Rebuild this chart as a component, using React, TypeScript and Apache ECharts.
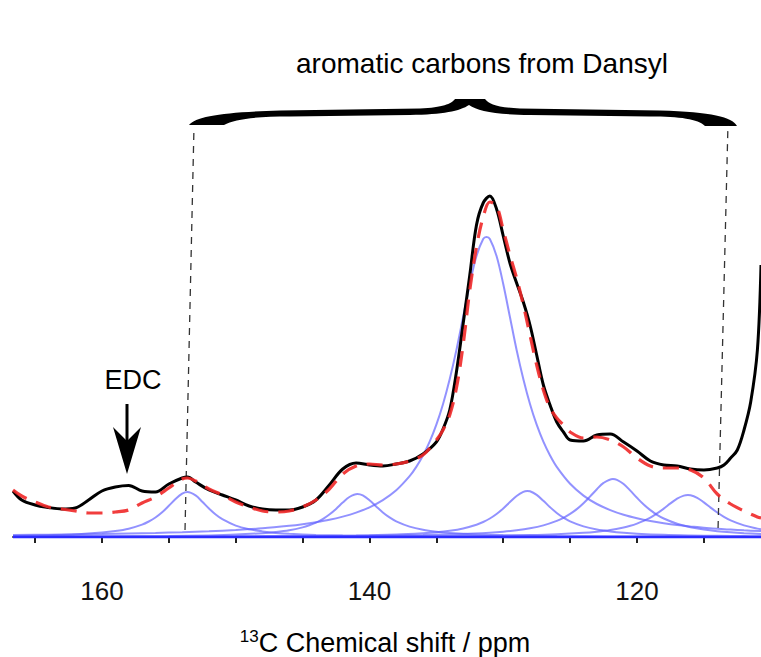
import React, { useEffect, useRef } from "react";
import * as echarts from "echarts";

// x: chemical shift (ppm), y: intensity (arbitrary units above baseline)
const spectrum: [number, number][] = [
  [166.65, 46], [166, 37], [165, 32], [164, 29.5], [163, 28], [162, 29], [161, 37], [160, 46],
  [159, 50], [158, 51.5], [157, 46], [156, 45], [155, 53], [154, 59], [153.6, 60], [153, 55],
  [152, 47], [151, 42], [150, 37], [149, 31], [148, 28], [147, 27], [146, 27], [145, 30],
  [144, 37], [143, 52], [142, 68], [141, 74], [140, 72], [139, 71], [138, 73], [137, 76],
  [136, 83], [135, 95], [134.5, 108], [134, 127], [133.5, 165], [133, 213], [132.5, 262],
  [132, 312], [131.5, 334], [131, 341], [130.5, 328], [130, 301], [129.5, 274], [129, 254],
  [128.5, 235], [128, 212], [127.5, 182], [127, 152], [126.5, 132], [126, 115], [125.5, 105],
  [125, 97], [124, 96], [123, 102], [122, 103], [121, 95], [120, 86], [119, 76], [118, 72],
  [117, 71], [116, 68], [115, 67], [114, 69], [113.5, 72], [113, 79], [112.5, 87], [112, 107],
  [111.5, 135], [111, 187], [110.73, 272],
];

const fitSum: [number, number][] = [
  [166.65, 47], [166, 41], [165, 35], [164, 30], [163, 28], [162, 26], [161, 24], [160, 24],
  [159, 25], [158, 27], [157, 34], [156, 40], [155, 49], [154, 58], [153.6, 59], [153, 56],
  [152, 48], [151, 42], [150, 35], [149, 30], [148, 26], [147, 25], [146, 26], [145, 30],
  [144, 37], [143, 48], [142, 63], [141, 71], [140, 73], [139, 72], [138, 73], [137, 76],
  [136, 82], [135, 97], [134.5, 107], [134, 122], [133.5, 149], [133, 192], [132.5, 247],
  [132, 290], [131.5, 320], [131, 335], [130.5, 331], [130, 307], [129.5, 282], [129, 259],
  [128.5, 232], [128, 202], [127.5, 172], [127, 147], [126.5, 129], [126, 119], [125.5, 112],
  [125, 105], [124, 99], [123, 100], [122, 97], [121, 90], [120, 79], [119, 71], [118, 69],
  [117, 69], [116, 67], [115, 59], [114, 43], [113, 33], [112, 26], [111, 20], [110.73, 19],
];

const comp153: [number, number][] = [
  [166.65, 1.1], [164, 1.8], [162, 2.6], [160, 4.4], [159, 5.9], [158, 8.3], [157, 12.4],
  [156.5, 15.5], [156, 19.5], [155.5, 24.7], [155, 31.2], [154.5, 38], [154, 43.4], [153.6, 45],
  [153, 41.6], [152.5, 35.3], [152, 28.5], [151.5, 22.5], [151, 17.8], [150, 11.4], [149, 7.8],
  [148, 5.6], [147, 4.1], [146, 3.2], [144, 2.1], [142, 1.4], [140, 1.05], [135, 0.57],
  [130, 0.35], [125, 0.24], [120, 0.17], [115, 0.13], [110.73, 0.11],
];

const comp141: [number, number][] = [
  [166.65, 0.31], [160, 0.56], [155, 1.02], [152, 1.62], [150, 2.38], [148, 3.8], [147, 4.95],
  [146, 6.7], [145, 9.6], [144.5, 11.7], [144, 14.4], [143.5, 17.9], [143, 22.5], [142.5, 28.1],
  [142, 34.4], [141.5, 40], [140.9, 43], [140.5, 41.6], [140, 36.8], [139.5, 30.6], [139, 24.6],
  [138.5, 19.6], [138, 15.7], [137, 10.4], [136, 7.2], [135, 5.25], [134, 3.97], [132, 2.47],
  [130, 1.69], [126, 0.92], [122, 0.57], [118, 0.39], [114, 0.29], [110.73, 0.23],
];

const comp131: [number, number][] = [
  [166.65, 2.0], [164, 2.33], [162, 2.65], [160, 3.02], [158, 3.48], [156, 4.06], [154, 4.8],
  [152, 5.75], [150, 7.0], [148, 8.7], [146, 11.2], [145, 12.8], [144, 14.8], [143, 17.2],
  [142, 20.4], [141, 24.4], [140, 29.7], [139, 36.9], [138, 46.7], [137, 60.8], [136.5, 70.1],
  [136, 81.5], [135.5, 95.3], [135, 112.3], [134.5, 133], [134, 158], [133.5, 187], [133, 220],
  [132.5, 253], [132, 281], [131.5, 298], [131.25, 300], [131, 298], [130.5, 281], [130, 253],
  [129.5, 220], [129, 187], [128.5, 158], [128, 133], [127.5, 112.3], [127, 95.3], [126.5, 81.5],
  [126, 70.1], [125, 53.2], [124, 41.4], [123, 33.0], [122, 26.9], [121, 22.2], [120, 18.7],
  [119, 15.9], [118, 13.7], [117, 11.9], [116, 10.5], [115, 9.3], [114, 8.2], [113, 7.4],
  [112, 6.65], [110.73, 5.9],
];

const comp128: [number, number][] = [
  [166.65, 0.16], [160, 0.24], [150, 0.51], [145, 0.85], [141, 1.44], [138, 2.4], [136, 3.7],
  [135, 4.7], [134, 6.25], [133, 8.6], [132, 12.3], [131.5, 15.0], [131, 18.5], [130.5, 23],
  [130, 28.5], [129.5, 34.9], [129, 41], [128.5, 45.2], [128.2, 46], [128, 45.7], [127.5, 42.1],
  [127, 36.2], [126.5, 29.8], [126, 24], [125.5, 19.3], [125, 15.7], [124, 10.6], [123, 7.5],
  [122, 5.6], [121, 4.26], [120, 3.36], [118, 2.22], [116, 1.58], [114, 1.18], [112, 0.91],
  [110.73, 0.78],
];

const comp122: [number, number][] = [
  [166.65, 0.19], [160, 0.27], [150, 0.49], [145, 0.72], [140, 1.16], [136, 1.88], [133, 2.96],
  [131, 4.3], [130, 5.3], [129, 6.7], [128, 8.67], [127, 11.6], [126, 16.1], [125.5, 19.2],
  [125, 23.1], [124.5, 27.9], [124, 33.8], [123.5, 40.6], [123, 47.8], [122.5, 54.1], [121.8, 58],
  [121.5, 57.2], [121, 53], [120.5, 46.4], [120, 39.2], [119.5, 32.5], [119, 26.9], [118.5, 22.2],
  [118, 18.5], [117, 13.2], [116, 9.7], [115, 7.4], [114, 5.8], [113, 4.65], [112, 3.8],
  [110.73, 3.04],
];

const comp116: [number, number][] = [
  [166.65, 0.11], [160, 0.15], [150, 0.25], [140, 0.5], [135, 0.79], [131, 1.26], [128, 1.94],
  [126, 2.76], [124, 4.2], [123, 5.36], [122, 7.0], [121, 9.5], [120.5, 11.2], [120, 13.4],
  [119.5, 16.1], [119, 19.4], [118.5, 23.6], [118, 28.4], [117.5, 33.6], [117, 38.4],
  [116.5, 41.4], [116.2, 42], [116, 41.8], [115.5, 39.2], [115, 34.6], [114.5, 29.4], [114, 24.5],
  [113.5, 20.2], [113, 16.7], [112, 11.6], [111, 8.4], [110.73, 7.7],
];

const baseline: [number, number][] = [[166.65, 0], [110.73, 0]];
const guideLeft: [number, number][] = [[153.79, 7], [153.12, 410]];
const guideRight: [number, number][] = [[113.94, 9], [113.2, 412]];

const tickValues = [165, 160, 155, 150, 145, 140, 135, 130, 125, 120, 115];
const labelValues = [160, 140, 120];
const xMin = 110.73;
const xMax = 166.65;

const FONT = "'Liberation Sans', Arial, Helvetica, sans-serif";

const BRACE_D =
  "M 189 125 C 196 116 225 112 280 110.5 L 420 108.5 C 443 107.5 451 104 455 99 L 485 99 " +
  "C 489 104 497 107.5 520 108.5 L 660 110.5 C 712 112 732 117 737 126 L 705 126 " +
  "C 698 119 680 116.5 650 116.5 L 530 115 C 495 114.5 478 111 469 105 " +
  "C 460 111 443 114.5 410 115 L 290 116.5 C 255 116.5 235 119 224 125 Z";

echarts.graphic.registerShape("brace", echarts.graphic.extendPath(BRACE_D, {}) as any);

const compColor = "rgba(95, 95, 255, 0.68)";

function compSeries(data: [number, number][]) {
  return {
    type: "line",
    data,
    showSymbol: false,
    smooth: 0.35,
    silent: true,
    z: 2,
    lineStyle: { color: compColor, width: 2 },
  };
}

export default function App() {
  const ref = useRef<HTMLDivElement>(null);

  useEffect(() => {
    if (!ref.current) return;
    const chart = echarts.init(ref.current, undefined, { renderer: "svg" });
    chart.setOption({
      animation: false,
      backgroundColor: "#ffffff",
      grid: { left: 13, right: 0, top: 0, bottom: 94, containLabel: false, outerBoundsMode: "none" },
      xAxis: {
        type: "value",
        inverse: true,
        min: xMin,
        max: xMax,
        splitLine: { show: false },
        axisLine: { show: true, lineStyle: { color: "#444", width: 2 } },
        axisTick: {
          show: true,
          inside: false,
          length: 6,
          customValues: tickValues,
          lineStyle: { color: "#222", width: 2 },
        },
        axisLabel: {
          customValues: labelValues,
          fontSize: 26,
          fontFamily: FONT,
          color: "#111",
          margin: 15,
        },
      },
      yAxis: { type: "value", min: -26, max: 537, show: false },
      series: [
        compSeries(comp153),
        compSeries(comp141),
        compSeries(comp131),
        compSeries(comp128),
        compSeries(comp122),
        compSeries(comp116),
        {
          type: "line",
          data: baseline,
          showSymbol: false,
          silent: true,
          z: 3,
          lineStyle: { color: "#2b2bff", width: 2.5 },
        },
        {
          type: "line",
          data: guideLeft,
          showSymbol: false,
          silent: true,
          z: 3,
          lineStyle: { color: "#333", width: 1.3, type: [7, 6] },
        },
        {
          type: "line",
          data: guideRight,
          showSymbol: false,
          silent: true,
          z: 3,
          lineStyle: { color: "#333", width: 1.3, type: [7, 6] },
        },
        {
          type: "line",
          data: spectrum,
          showSymbol: false,
          smooth: 0.35,
          silent: true,
          z: 4,
          lineStyle: { color: "#000", width: 3 },
        },
        {
          type: "line",
          data: fitSum,
          showSymbol: false,
          smooth: 0.35,
          silent: true,
          z: 5,
          lineStyle: { color: "rgba(240, 40, 40, 0.9)", width: 3.2, type: [16, 10] },
        },
      ],
      graphic: [
        {
          type: "brace",
          x: 0,
          y: 0,
          silent: true,
          style: { fill: "#000" },
        },
        {
          type: "text",
          x: 482,
          y: 63,
          silent: true,
          style: {
            text: "aromatic carbons from Dansyl",
            fontSize: 28,
            fontFamily: FONT,
            fill: "#000",
            align: "center",
            verticalAlign: "middle",
          },
        },
        {
          type: "text",
          x: 133,
          y: 380,
          silent: true,
          style: {
            text: "EDC",
            fontSize: 27,
            fontFamily: FONT,
            fill: "#000",
            align: "center",
            verticalAlign: "middle",
          },
        },
        {
          type: "line",
          silent: true,
          shape: { x1: 127, y1: 404, x2: 127, y2: 445 },
          style: { stroke: "#000", lineWidth: 3 },
        },
        {
          type: "polygon",
          silent: true,
          shape: { points: [[113, 427], [127, 474], [141, 427], [127, 441]] },
          style: { fill: "#000" },
        },
        {
          type: "text",
          x: 385,
          y: 643,
          silent: true,
          style: {
            text: "{sup|13}{n|C Chemical shift / ppm}",
            align: "center",
            verticalAlign: "middle",
            fill: "#000",
            rich: {
              sup: { fontSize: 17, fontFamily: FONT, fill: "#000", verticalAlign: "top", lineHeight: 17 },
              n: { fontSize: 27, fontFamily: FONT, fill: "#000", lineHeight: 30 },
            },
          },
        },
      ],
    });
    return () => chart.dispose();
  }, []);

  return (
    <div
      ref={ref}
      style={{ position: "fixed", left: 0, top: 0, width: 761, height: 657, background: "#fff" }}
    />
  );
}
